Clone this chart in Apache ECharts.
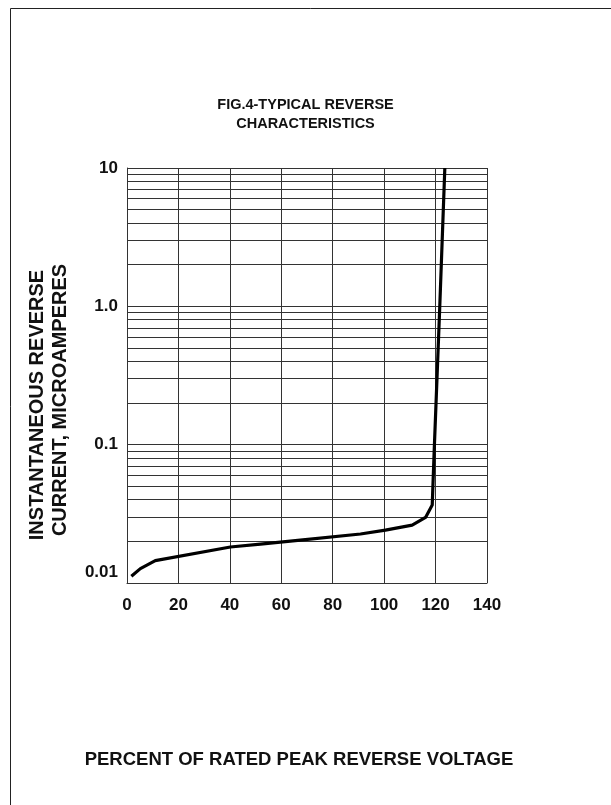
<!DOCTYPE html>
<html>
<head>
<meta charset="utf-8">
<title>FIG.4 Typical Reverse Characteristics</title>
<script src="https://cdn.jsdelivr.net/npm/echarts@6/dist/echarts.min.js"></script>
<style>
  html, body { margin: 0; padding: 0; background: #fff; }
  #chart { width: 611px; height: 805px; }
</style>
</head>
<body>
<div id="chart"></div>
<script>
// percent of rated peak reverse voltage
const voltagePct = [1.7, 5.2, 11.0, 40.2, 51.9, 67.4, 90.8, 100.5, 110.9, 116.1, 118.7, 119.5, 121.6, 123.6]
// instantaneous reverse current, microamperes
const reverseCurrent = [0.0112, 0.0127, 0.0145, 0.0182, 0.0191, 0.0204, 0.0226, 0.0241, 0.0262, 0.0298, 0.0366, 0.094, 0.96, 10]

const yTickValues = [0.01, 0.1, 1, 10]
const yTickLabels = ['0.01', '0.1', '1.0', '10']
// log paper minor lines (2..9 in each decade)
const minorGridValues = [
  0.02, 0.03, 0.04, 0.05, 0.06, 0.07, 0.08, 0.09,
  0.2, 0.3, 0.4, 0.5, 0.6, 0.7, 0.8, 0.9,
  2, 3, 4, 5, 6, 7, 8, 9
]

const FONT = '"Liberation Sans", Arial, sans-serif'
const GRID_COLOR = '#333'

const chart = echarts.init(document.getElementById('chart'), null, { renderer: 'canvas' })

chart.setOption({
  animation: false,
  backgroundColor: '#fff',
  title: {
    text: 'FIG.4-TYPICAL REVERSE\nCHARACTERISTICS',
    left: 'center',
    top: 90,
    textStyle: {
      fontFamily: FONT,
      fontSize: 14.5,
      fontWeight: 'bold',
      color: '#111',
      lineHeight: 19
    }
  },
  grid: {
    left: 127,
    top: 168,
    width: 360,
    height: 415,
    containLabel: false
  },
  xAxis: {
    type: 'value',
    min: 0,
    max: 140,
    interval: 20,
    name: 'PERCENT OF RATED PEAK REVERSE VOLTAGE',
    nameLocation: 'middle',
    nameGap: 167,
    nameTextStyle: {
      fontFamily: FONT,
      fontSize: 18.5,
      fontWeight: 'bold',
      color: '#111',
      padding: [0, 16, 0, 0]
    },
    axisLine: { show: true, lineStyle: { color: GRID_COLOR, width: 1 } },
    axisTick: { show: false },
    axisLabel: {
      margin: 14,
      fontFamily: FONT,
      fontSize: 17,
      fontWeight: 'bold',
      color: '#111'
    },
    splitLine: { show: true, lineStyle: { color: GRID_COLOR, width: 1 } }
  },
  yAxis: {
    type: 'log',
    logBase: 10,
    min: 0.01,
    max: 10,
    axisLine: { show: true, lineStyle: { color: GRID_COLOR, width: 1 } },
    axisTick: { show: false },
    axisLabel: {
      margin: 9,
      fontFamily: FONT,
      fontSize: 17,
      fontWeight: 'bold',
      color: '#111',
      formatter: function (value) {
        for (let i = 0; i < yTickValues.length; i++) {
          if (Math.abs(Math.log10(value) - Math.log10(yTickValues[i])) < 1e-6) {
            // the 0.01 label sits a bit above its line on the original
            return i === 0 ? '{low|' + yTickLabels[i] + '}' : yTickLabels[i]
          }
        }
        return ''
      },
      rich: {
        low: {
          fontFamily: FONT,
          fontSize: 17,
          fontWeight: 'bold',
          color: '#111',
          padding: [0, 0, 22, 0]
        }
      }
    },
    splitLine: { show: true, lineStyle: { color: GRID_COLOR, width: 1 } }
  },
  graphic: [
    // page frame (left and top edges)
    {
      type: 'line',
      shape: { x1: 10.5, y1: 8.5, x2: 10.5, y2: 805 },
      style: { stroke: '#222', lineWidth: 1 }
    },
    {
      type: 'line',
      shape: { x1: 10.5, y1: 8.5, x2: 611, y2: 8.5 },
      style: { stroke: '#222', lineWidth: 1 }
    },
    // y axis title, two rotated lines
    {
      type: 'text',
      x: 37,
      y: 405,
      rotation: Math.PI / 2,
      style: {
        text: 'INSTANTANEOUS REVERSE',
        fontFamily: FONT,
        fontSize: 20,
        fontWeight: 'bold',
        fill: '#111',
        align: 'center',
        verticalAlign: 'middle'
      }
    },
    {
      type: 'text',
      x: 60,
      y: 400,
      rotation: Math.PI / 2,
      style: {
        text: 'CURRENT, MICROAMPERES',
        fontFamily: FONT,
        fontSize: 20,
        fontWeight: 'bold',
        fill: '#111',
        align: 'center',
        verticalAlign: 'middle'
      }
    }
  ],
  series: [
    {
      type: 'line',
      data: voltagePct.map((x, i) => [x, reverseCurrent[i]]),
      showSymbol: false,
      smooth: false,
      silent: true,
      clip: true,
      lineStyle: { color: '#000', width: 3.2, join: 'round' },
      z: 5,
      markLine: {
        silent: true,
        symbol: ['none', 'none'],
        label: { show: false },
        lineStyle: { type: 'solid', color: GRID_COLOR, width: 1 },
        z: 1,
        data: minorGridValues.map(v => ({ yAxis: v }))
      }
    }
  ]
})
</script>
</body>
</html>
